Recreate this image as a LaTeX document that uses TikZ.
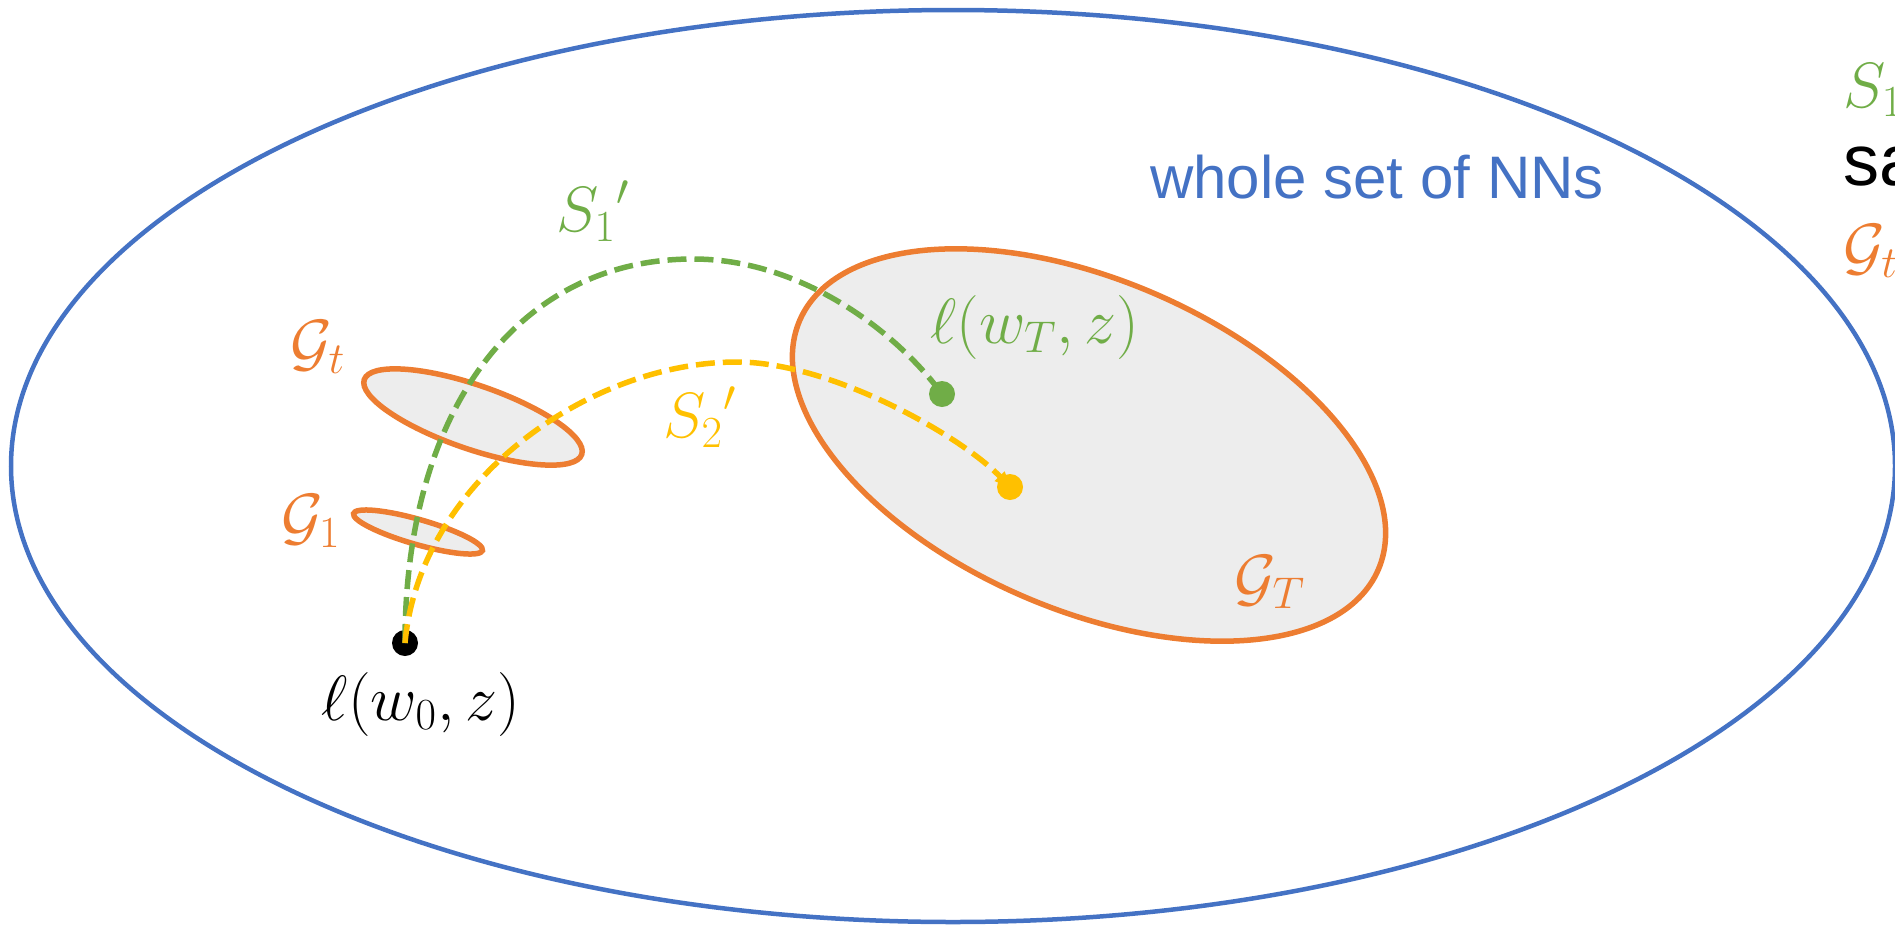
\documentclass[tikz,border=0pt]{standalone}
\usepackage{graphicx}
\usepackage{fontspec}
\usetikzlibrary{arrows.meta}
\newfontfamily\arialf{Liberation Sans}
\definecolor{nnblue}{HTML}{4472C4}
\definecolor{nnorange}{HTML}{ED7D31}
\definecolor{nngreen}{HTML}{70AD47}
\definecolor{nnyellow}{HTML}{FFC000}
\definecolor{nngray}{HTML}{EDEDED}
\DeclareMathSizes{24.88}{24.88}{17.28}{12}
\newcommand\mt[1]{\scalebox{2.572}{\fontsize{24.88}{30}\selectfont$#1$}}
\begin{document}
\begin{tikzpicture}[x=1pt,y=-1pt,
  mlab/.style={inner sep=0pt},
  slab/.style={inner sep=0pt},
  dotnode/.style={circle, inner sep=0pt, minimum size=26pt},
  region/.style={draw=nnorange, line width=5.5pt, fill=nngray},
  pathline/.style={line width=5.5pt, dash pattern=on 19pt off 8pt}]
\useasboundingbox (0,0) rectangle (1895,924);
\clip (0,0) rectangle (1895,924);
% whole set
\draw[nnblue, line width=4.5pt] (953,466) ellipse [x radius=942pt, y radius=456pt];
% regions
\draw[region, rotate around={-23.3:(1089,445)}] (1089,445) ellipse [x radius=315pt, y radius=165pt];
\draw[region, rotate around={-19:(473,417)}] (473,417) ellipse [x radius=115pt, y radius=32pt];
\draw[region, rotate around={-16:(418,532)}] (418,532) ellipse [x radius=67pt, y radius=12.5pt];
% start point
\node[dotnode, fill=black] (w0) at (405,643) {};
\coordinate (pg) at (942,394);
\coordinate (py) at (1010,487);
\coordinate (gtop) at (693,259);
\coordinate (ytop) at (737,362);
% paths
\draw[pathline, nngreen] (w0.center) .. controls (405,410) and (518,259) .. (gtop)
  .. controls (800,259) and (895,330) .. (pg);
\draw[pathline, nnyellow, -{Triangle[length=15pt,width=13pt]}] (w0.center) .. controls (420,480) and (590,362) .. (ytop)
  .. controls (830,362) and (960,435) .. (py);
% end points
\node[dotnode, fill=nngreen] (wTg) at (pg) {};
\node[dotnode, fill=nnyellow] (wTy) at (py) {};
% labels
\node[mlab, text=nngreen] (s1) at (593,211) {\mt{{S_1}'}};
\node[mlab, text=nnyellow] (s2) at (700,417) {\mt{{S_2}'}};
\node[mlab, text=nnorange] (gt) at (318,347) {\mt{\mathcal{G}_t}};
\node[mlab, text=nnorange] (g1) at (311,521) {\mt{\mathcal{G}_1}};
\node[mlab, text=nnorange] (gT) at (1270,582) {\mt{\mathcal{G}_T}};
\node[mlab] (l0) at (421,704) {\mt{\ell(w_0,z)}};
\node[mlab, text=nngreen] (lT) at (1035,327) {\mt{\ell(w_T,z)}};
\node[slab, font=\arialf\fontsize{60pt}{66pt}\selectfont, text=nnblue, anchor=base] (whole) at (1377,198) {whole set of NNs};
% cut-off legend at the right edge
\node[mlab, text=nngreen, anchor=west] (rs) at (1843,90) {\mt{S_1}};
\node[slab, font=\arialf\fontsize{72pt}{80pt}\selectfont, anchor=base west] (rsa) at (1843,185) {sa};
\node[mlab, text=nnorange, anchor=west] (rg) at (1843,251) {\mt{\mathcal{G}_t}};
\end{tikzpicture}
\end{document}
